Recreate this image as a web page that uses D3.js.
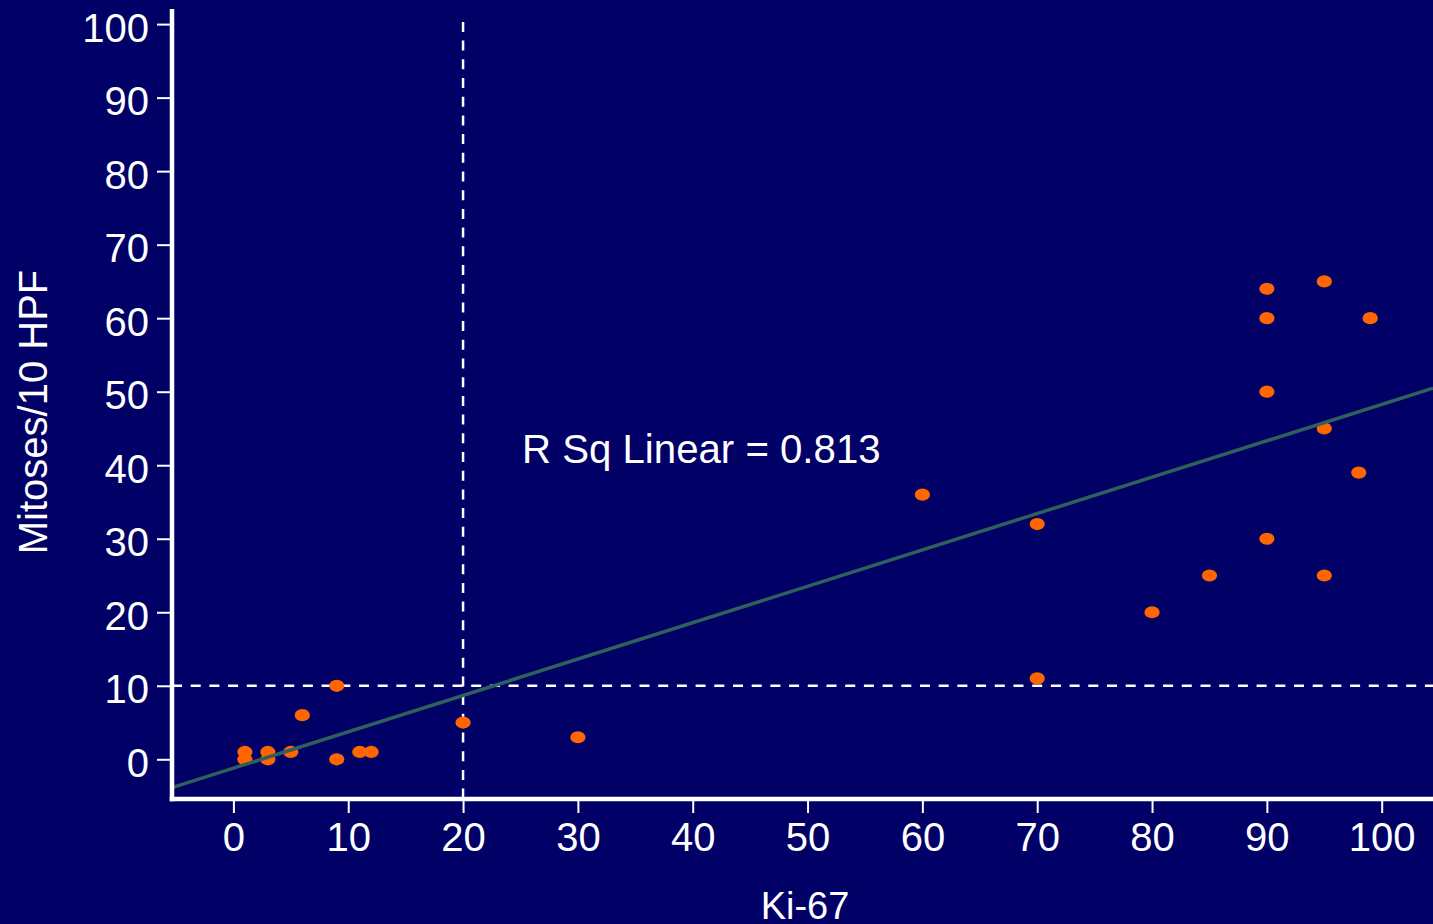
<!DOCTYPE html>
<html>
<head>
<meta charset="utf-8">
<script src="https://cdn.jsdelivr.net/npm/d3@7"></script>
<style>
  html, body { margin: 0; padding: 0; background: #000066; }
  svg { display: block; }
  text { font-family: "Liberation Sans", Arial, sans-serif; fill: #ffffff; }
</style>
</head>
<body>
<svg id="chart" width="1433" height="924"></svg>
<script>
// Ki-67 index (%) against mitotic count per 10 high-power fields
const ki67    = [1, 1, 3, 3, 5, 6, 9, 9, 11, 12, 20, 30, 60, 70, 70, 80, 85, 90, 90, 90, 90, 95, 95, 95, 98, 99];
const mitoses = [1, 0, 1, 0, 1, 6, 10, 0, 1, 1, 5, 3, 36, 32, 11, 20, 25, 64, 60, 50, 30, 65, 45, 25, 39, 60];

// Tick values on both axes
const xTickValues = [0, 10, 20, 30, 40, 50, 60, 70, 80, 90, 100];
const yTickValues = [0, 10, 20, 30, 40, 50, 60, 70, 80, 90, 100];

// Linear fit (total population) and its goodness of fit
const fitIntercept = -1.21;
const fitSlope = 0.4948;
const rSquared = 0.813;

// Cut-off reference lines
const refKi67 = 20;
const refMitoses = 10;

const xTitle = "Ki-67";
const yTitle = "Mitoses/10 HPF";

const W = 1433, H = 924;
const frame = { left: 172, right: W, top: 9, bottom: 799 };

const x = d3.scaleLinear().domain([0, 100]).range([233.4, 1381.7]);
const y = d3.scaleLinear().domain([0, 100]).range([759.3, 24.1]);

const svg = d3.select("#chart");
svg.append("rect").attr("width", W).attr("height", H).attr("fill", "#000066");

// Dashed cut-off lines
const dash = "10,8.7";
svg.append("line")
  .attr("x1", x(refKi67)).attr("x2", x(refKi67))
  .attr("y1", y(100.3)).attr("y2", frame.bottom)
  .attr("stroke", "#ffffff").attr("stroke-width", 2.5).attr("stroke-dasharray", dash);
svg.append("line")
  .attr("x1", frame.left).attr("x2", frame.right)
  .attr("y1", y(refMitoses)).attr("y2", y(refMitoses))
  .attr("stroke", "#ffffff").attr("stroke-width", 2.5).attr("stroke-dasharray", dash);

// Cases
const cases = ki67.map((k, i) => ({ k, m: mitoses[i] }));
svg.append("g").selectAll("ellipse")
  .data(cases)
  .join("ellipse")
  .attr("cx", d => x(d.k))
  .attr("cy", d => y(d.m))
  .attr("rx", 7.6)
  .attr("ry", 6.1)
  .attr("fill", "#ff6600");

// Fit line across the whole plotting frame
const x0 = x.invert(frame.left), x1 = x.invert(frame.right);
svg.append("line")
  .attr("x1", x(x0)).attr("y1", y(fitIntercept + fitSlope * x0))
  .attr("x2", x(x1)).attr("y2", y(fitIntercept + fitSlope * x1))
  .attr("stroke", "#2f605c").attr("stroke-width", 3.5);

// Axes
const yAxis = svg.append("g")
  .attr("transform", `translate(${frame.left},0)`)
  .call(d3.axisLeft(y).tickValues(yTickValues).tickSize(15).tickPadding(8).tickFormat(d3.format("d")));
const xAxis = svg.append("g")
  .attr("transform", `translate(0,${frame.bottom})`)
  .call(d3.axisBottom(x).tickValues(xTickValues).tickSize(14).tickPadding(10).tickFormat(d3.format("d")));

[yAxis, xAxis].forEach(g => {
  g.select(".domain").remove();
  g.selectAll(".tick line").attr("stroke", "#ffffff").attr("stroke-width", 2);
  g.selectAll(".tick text")
    .attr("fill", "#ffffff")
    .style("font-size", "40px")
    .style("font-family", "'Liberation Sans', Arial, sans-serif");
});
yAxis.selectAll(".tick text").attr("dy", "0.43em");

// Axis lines
svg.append("line")
  .attr("x1", frame.left).attr("x2", frame.left)
  .attr("y1", frame.top).attr("y2", frame.bottom + 2.25)
  .attr("stroke", "#ffffff").attr("stroke-width", 4.5);
svg.append("line")
  .attr("x1", frame.left - 2.25).attr("x2", frame.right)
  .attr("y1", frame.bottom).attr("y2", frame.bottom)
  .attr("stroke", "#ffffff").attr("stroke-width", 4.5);

// Titles
svg.append("text")
  .attr("x", 805).attr("y", 919)
  .attr("text-anchor", "middle")
  .style("font-size", "38px")
  .text(xTitle);
svg.append("text")
  .attr("transform", "translate(47,412) rotate(-90)")
  .attr("text-anchor", "middle")
  .style("font-size", "40px")
  .text(yTitle);

// Fit annotation
svg.append("text")
  .attr("x", 522).attr("y", 463)
  .style("font-size", "40.2px")
  .text(`R Sq Linear = ${rSquared.toFixed(3)}`);
</script>
</body>
</html>
